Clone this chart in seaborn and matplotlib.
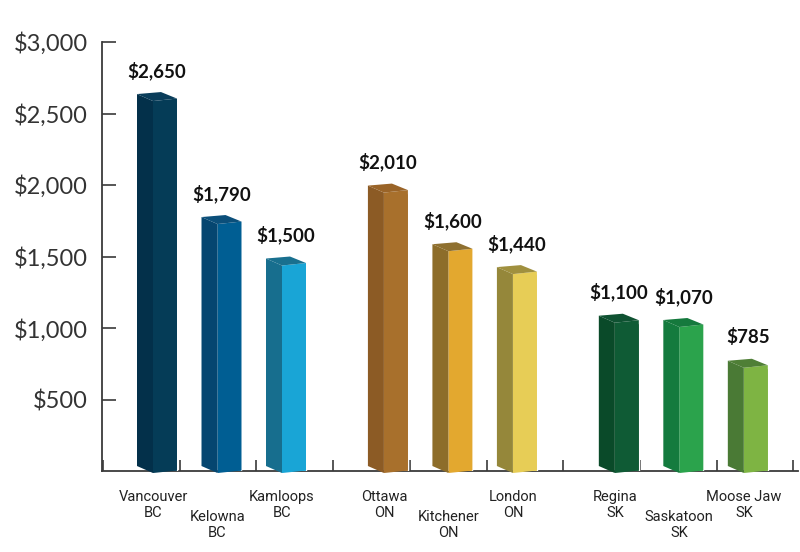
import numpy as np
import pandas as pd
import matplotlib
matplotlib.use("Agg")
import matplotlib.pyplot as plt
import seaborn as sns

# data
cities = ["Vancouver\nBC", "Kelowna\nBC", "Kamloops\nBC",
          "Ottawa\nON", "Kitchener\nON", "London\nON",
          "Regina\nSK", "Saskatoon\nSK", "Moose Jaw\nSK"]
groups = [0, 0, 0, 1, 1, 1, 2, 2, 2]
rents = [2650, 1790, 1500, 2010, 1600, 1440, 1100, 1070, 785]
value_labels = ["$2,650", "$1,790", "$1,500", "$2,010", "$1,600", "$1,440",
                "$1,100", "$1,070", "$785"]
y_ticks = [500, 1000, 1500, 2000, 2500, 3000]
y_tick_labels = ["$500", "$1,000", "$1,500", "$2,000", "$2,500", "$3,000"]

front_colors = ["#053c57", "#005e93", "#19a5d6", "#a8702c", "#e3a82f",
                "#e7cd56", "#0f5b35", "#2ba34c", "#7eb443"]
side_colors = ["#03304a", "#054670", "#176e8e", "#8c5b25", "#8d6d2a",
               "#95873a", "#0a4a29", "#147b3e", "#4a7a35"]
top_colors = ["#0a3d5a", "#0b4f7a", "#19708f", "#9a6428", "#8f7030",
              "#a0903e", "#0f5232", "#15793d", "#4f7f36"]

sns.set_style("white")
plt.rcParams["font.family"] = ["Lato", "DejaVu Sans"]

fig = plt.figure(figsize=(8, 5.52), dpi=100)
ax = fig.add_axes([0.1275, 0.1467, 0.87, 0.7772])

# corner (front edge) position of each box, groups separated by a gap
corner = np.arange(len(rents)) + np.array(groups) * 0.58
w_side = 0.248
w_front = 0.372
px = 3000 / 429.0  # data units per vertical pixel

df = pd.DataFrame({"pos": corner + w_front / 2, "rent": np.array(rents) - 9 * px,
                   "city": cities})
sns.barplot(data=df, x="pos", y="rent", hue="city", palette=front_colors,
            native_scale=True, width=w_front, dodge=False, legend=False,
            saturation=1, ax=ax, zorder=3)

for i, v in enumerate(rents):
    xc = corner[i]
    xl = xc - w_side
    xr = xc + w_front
    tc, tl, tr = v - 9 * px, v - 2 * px, v - 6.5 * px
    bc, bl, br = -2 * px, 5 * px, 0.5 * px
    ax.fill([xc, xr, xr, xc], [bc, br, tr, tc], color=front_colors[i],
            lw=0, zorder=4, clip_on=False)
    ax.fill([xl, xc, xc, xl], [bl, bc, tc, tl], color=side_colors[i],
            lw=0, zorder=4, clip_on=False)
    ax.fill([xl, xl + w_front, xr, xc], [tl, v, tr, tc], color=top_colors[i],
            lw=0, zorder=4, clip_on=False)
    ax.text(xc + (w_front - w_side) / 2, v + 150, value_labels[i],
            ha="center", va="center", fontsize=13.5, fontweight="bold",
            color="#111111")
    # category labels, middle one of each group sits lower
    low = i % 3 == 1
    ax.text(xc, -0.091 if low else -0.044, cities[i],
            transform=ax.get_xaxis_transform(), ha="center", va="top",
            fontsize=10.5, linespacing=1.2, color="#222222",
            family=["Roboto", "DejaVu Sans"])

x0 = (103 - 153) / 64.5
ax.set_xlim((102 - 153) / 64.5, (798 - 153) / 64.5)
ax.set_ylim(0, 3000)
ax.set_xticks(x0 + np.arange(10) * 76.7 / 64.5)
ax.set_xticklabels([])
ax.set_yticks(y_ticks)
ax.set_yticklabels(y_tick_labels, fontsize=17, fontweight="normal", color="#333333")
ax.set_xlabel("")
ax.set_ylabel("")

for s in ["top", "right"]:
    ax.spines[s].set_visible(False)
for s in ["left", "bottom"]:
    ax.spines[s].set_color("#3a3a3a")
    ax.spines[s].set_linewidth(1.3)
ax.tick_params(axis="y", left=True, direction="in", length=10, width=1.2,
               color="#3a3a3a", pad=10)
ax.tick_params(axis="x", bottom=True, direction="in", length=8, width=1.2,
               color="#3a3a3a")
ax.grid(False)

fig.savefig("out.png", dpi=100)
